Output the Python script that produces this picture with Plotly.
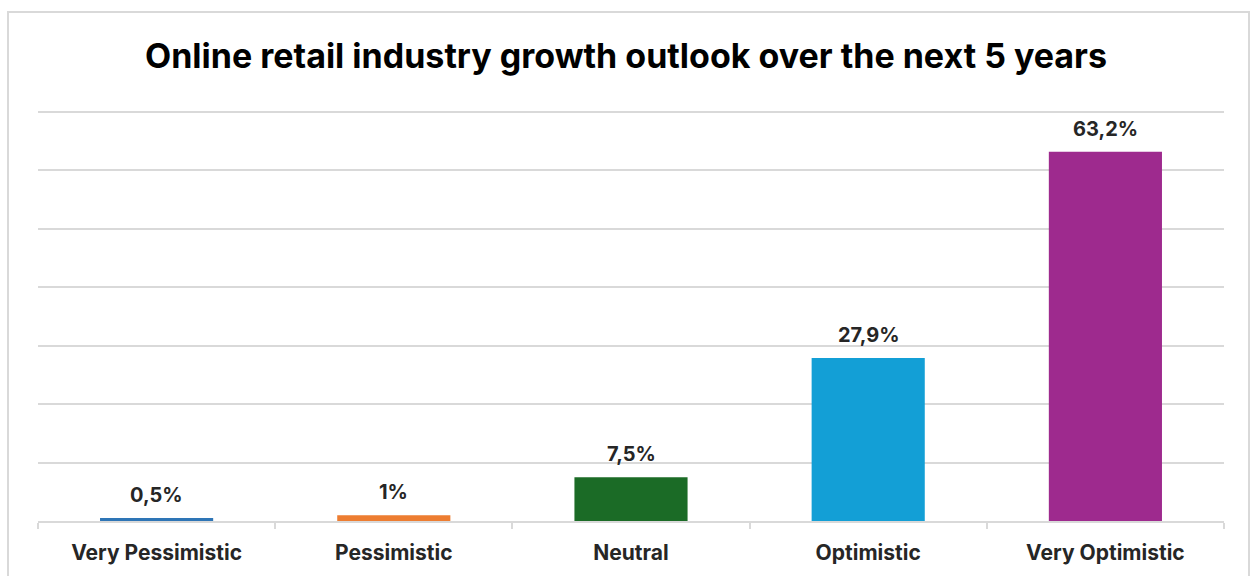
import plotly.graph_objects as go

# Survey responses: online retail growth outlook (5 years)
categories = ["Very Pessimistic", "Pessimistic", "Neutral", "Optimistic", "Very Optimistic"]
shares = [0.5, 1.0, 7.5, 27.9, 63.2]
labels = ["0,5%", "1%", "7,5%", "27,9%", "63,2%"]
bar_colors = ["#2E75B6", "#ED7D31", "#1B6B26", "#139FD6", "#9E2A8E"]

W, H = 1252, 576
L, R, T, B = 38, 28, 110, 55
plot_w = W - L - R
plot_h = H - T - B
Y_MAX = 70.35  # a little headroom so the 70% gridline is drawn

FONT = "Inter"

fig = go.Figure()
fig.add_trace(go.Bar(
    x=categories,
    y=shares,
    marker=dict(color=bar_colors, line=dict(width=0)),
    width=0.477,
    hoverinfo="x+y",
))

# Value labels above each bar
for cat, val, txt in zip(categories, shares, labels):
    fig.add_annotation(
        x=cat, y=val, text=f"<b>{txt}</b>", showarrow=False,
        yanchor="bottom", yshift=9,
        font=dict(family=FONT, size=20, color="#262626"),
    )

# Outer chart frame
fig.add_shape(
    type="rect", xref="paper", yref="paper",
    x0=(8 - L) / plot_w, x1=(1249 - L) / plot_w,
    y0=-(B + 10) / plot_h, y1=((H - B) - 12) / plot_h,
    line=dict(color="#D9D9D9", width=2), fillcolor="rgba(0,0,0,0)", layer="below",
)

fig.update_layout(
    width=W, height=H,
    margin=dict(l=L, r=R, t=T, b=B),
    paper_bgcolor="white", plot_bgcolor="white",
    showlegend=False,
    title=dict(
        text="<b>Online retail industry growth outlook over the next 5 years</b>",
        x=0.5, xanchor="center", y=1 - 56 / H, yanchor="middle",
        font=dict(family=FONT, size=34, color="#000000"),
    ),
    bargap=0.523,
)
fig.update_xaxes(
    type="category",
    showline=True, linecolor="#D9D9D9", linewidth=2,
    tickson="boundaries", ticks="outside", ticklen=6, tickcolor="#D9D9D9", tickwidth=2,
    tickfont=dict(family=FONT, size=21, color="#262626"),
    tickprefix="<b>", ticksuffix="</b>",
    ticklabelstandoff=12,
    showgrid=False,
)
fig.update_yaxes(
    range=[0, Y_MAX], tick0=0, dtick=10,
    showgrid=True, gridcolor="#D9D9D9", gridwidth=2,
    showticklabels=False, zeroline=False,
)

fig.write_html("out.html")
